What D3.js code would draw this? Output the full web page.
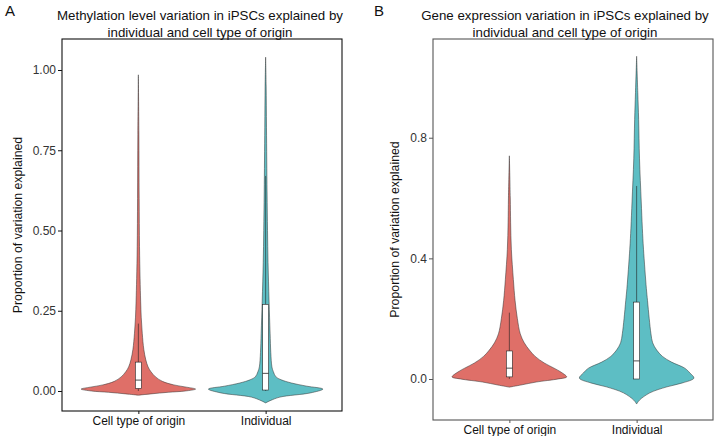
<!DOCTYPE html>
<html><head><meta charset="utf-8">
<script src="https://cdn.jsdelivr.net/npm/d3@7"></script>
<style>body{margin:0;background:#fff}svg{display:block;font-family:"Liberation Sans",Arial,sans-serif}</style>
</head><body><svg id="c" width="714" height="436"></svg>
<script>
const categories = ["Cell type of origin", "Individual"];
const colors = ["#DF6F68", "#5DBEC4"];
const panelLetters = ["A", "B"];
const titlesA = ["Methylation level variation in iPSCs explained by", "individual and cell type of origin"];
const titlesB = ["Gene expression variation in iPSCs explained by", "individual and cell type of origin"];
const yTitle = "Proportion of variation explained";
const ticksA = [0, 0.25, 0.5, 0.75, 1.0];
const tickLabelsA = ["0.00", "0.25", "0.50", "0.75", "1.00"];
const ticksB = [0, 0.4, 0.8];
const tickLabelsB = ["0.0", "0.4", "0.8"];

// violin profiles: [value, relative half-width]
const methCell = [[-0.013,0],[-0.009,0.22],[-0.004,0.52],[0.0,0.82],[0.006,1.0],[0.012,0.84],[0.019,0.62],[0.03,0.42],[0.044,0.3],[0.06,0.22],[0.075,0.17],[0.097,0.13],[0.13,0.095],[0.18,0.068],[0.23,0.05],[0.28,0.04],[0.35,0.03],[0.45,0.02],[0.6,0.014],[0.8,0.009],[0.985,0]];
const methIndiv = [[-0.037,0],[-0.03,0.08],[-0.019,0.25],[-0.006,0.78],[0.006,1.0],[0.015,0.72],[0.025,0.45],[0.035,0.27],[0.044,0.18],[0.06,0.135],[0.075,0.11],[0.12,0.09],[0.18,0.078],[0.28,0.06],[0.4,0.042],[0.5,0.033],[0.62,0.025],[0.82,0.015],[0.95,0.009],[1.04,0]];
const exprCell = [[-0.027,0],[-0.02,0.2],[-0.01,0.47],[0.0,0.85],[0.007,1.0],[0.023,0.9],[0.036,0.78],[0.053,0.61],[0.075,0.45],[0.096,0.35],[0.12,0.26],[0.15,0.19],[0.2,0.14],[0.26,0.1],[0.33,0.07],[0.43,0.035],[0.52,0.022],[0.6,0.016],[0.74,0]];
const exprIndiv = [[-0.083,0],[-0.07,0.05],[-0.046,0.23],[-0.026,0.53],[-0.013,0.8],[0.003,1.0],[0.02,0.93],[0.036,0.84],[0.056,0.61],[0.075,0.45],[0.096,0.35],[0.12,0.28],[0.15,0.25],[0.2,0.22],[0.26,0.19],[0.3,0.17],[0.43,0.12],[0.5,0.1],[0.59,0.08],[0.73,0.05],[0.86,0.035],[0.95,0.02],[1.07,0]];

// box stats: [lowWhisker, q1, median, q3, highWhisker]
const methBoxes = [[0, 0.008, 0.034, 0.09, 0.21], [0, 0.003, 0.055, 0.27, 0.67]];
const exprBoxes = [[0, 0.007, 0.036, 0.093, 0.22], [0, 0.0, 0.06, 0.255, 0.64]];

const svg = d3.select("#c");
const FONT = "Liberation Sans, Arial, sans-serif";

function panel(opt) {
  const g = svg.append("g");
  const x = d3.scaleLinear().domain([0.4, 2.6]).range([opt.left, opt.right]);
  const y = d3.scaleLinear().domain(opt.yDomain).range([opt.bottom, opt.top]);
  const halfW = x(1.45) - x(1);
  opt.profiles.forEach((prof, i) => {
    const cx = x(i + 1);
    const area = d3.area()
      .y(d => y(d[0]))
      .x0(d => cx - d[1] * halfW)
      .x1(d => cx + d[1] * halfW)
      .curve(d3.curveCatmullRom.alpha(0.5));
    g.append("path").datum(prof).attr("d", area)
      .attr("fill", colors[i]).attr("stroke", "#2b2b2b").attr("stroke-width", 0.5);
    const b = opt.boxes[i];
    const bw = 3;
    g.append("line").attr("x1", cx).attr("x2", cx).attr("y1", y(b[3])).attr("y2", y(b[4]))
      .attr("stroke", "#222").attr("stroke-width", 0.6);
    g.append("line").attr("x1", cx).attr("x2", cx).attr("y1", y(b[0])).attr("y2", y(b[1]))
      .attr("stroke", "#222").attr("stroke-width", 0.6);
    g.append("rect").attr("x", cx - bw).attr("width", bw * 2)
      .attr("y", y(b[3])).attr("height", y(b[1]) - y(b[3]))
      .attr("fill", "#fff").attr("stroke", "#222").attr("stroke-width", 0.6);
    g.append("line").attr("x1", cx - bw).attr("x2", cx + bw).attr("y1", y(b[2])).attr("y2", y(b[2]))
      .attr("stroke", "#222").attr("stroke-width", 0.8);
  });
  g.append("rect").attr("x", opt.left).attr("y", opt.top)
    .attr("width", opt.right - opt.left).attr("height", opt.bottom - opt.top)
    .attr("fill", "none").attr("stroke", opt.frame).attr("stroke-width", 1.1);
  const ya = d3.axisLeft(y).tickValues(opt.ticks).tickFormat((d, i) => opt.tickLabels[i]).tickSize(4).tickPadding(2);
  const yg = g.append("g").attr("transform", `translate(${opt.left},0)`).call(ya);
  yg.select(".domain").remove();
  yg.selectAll("line").attr("stroke", opt.frame);
  yg.selectAll("text").attr("fill", "#333").style("font-size", "12px").style("font-family", FONT);
  const xa = d3.axisBottom(x).tickValues([1, 2]).tickFormat((d) => categories[d - 1]).tickSize(3).tickPadding(2);
  const xg = g.append("g").attr("transform", `translate(0,${opt.bottom})`).call(xa);
  xg.select(".domain").remove();
  xg.selectAll("line").attr("stroke", opt.frame);
  xg.selectAll("text").attr("fill", "#111").style("font-size", "12px").style("font-family", FONT);
  opt.title.forEach((t, k) => {
    g.append("text").attr("x", opt.titleX).attr("y", 20 + k * 17).attr("text-anchor", "middle")
      .style("font-size", "13.3px").attr("fill", "#111").text(t);
  });
  g.append("text").attr("x", opt.letterX).attr("y", 16).style("font-size", "15px").attr("fill", "#111").text(opt.letter);
  g.append("text").attr("transform", `translate(${opt.yTitleX},${(opt.top + opt.bottom) / 2}) rotate(-90)`)
    .attr("text-anchor", "middle").style("font-size", "12.3px").attr("fill", "#111").text(yTitle);
}

panel({left: 62, right: 342, top: 39, bottom: 411, yDomain: [(391 - 411) / 321, (391 - 39) / 321],
  profiles: [methCell, methIndiv], boxes: methBoxes, ticks: ticksA, tickLabels: tickLabelsA,
  title: titlesA, titleX: 200, letter: panelLetters[0], letterX: 5, yTitleX: 22, frame: "#111"});
panel({left: 433, right: 713, top: 39, bottom: 420, yDomain: [(379 - 420) / 301.6, (379 - 39) / 301.6],
  profiles: [exprCell, exprIndiv], boxes: exprBoxes, ticks: ticksB, tickLabels: tickLabelsB,
  title: titlesB, titleX: 565, letter: panelLetters[1], letterX: 374, yTitleX: 399, frame: "#555"});
</script></body></html>
